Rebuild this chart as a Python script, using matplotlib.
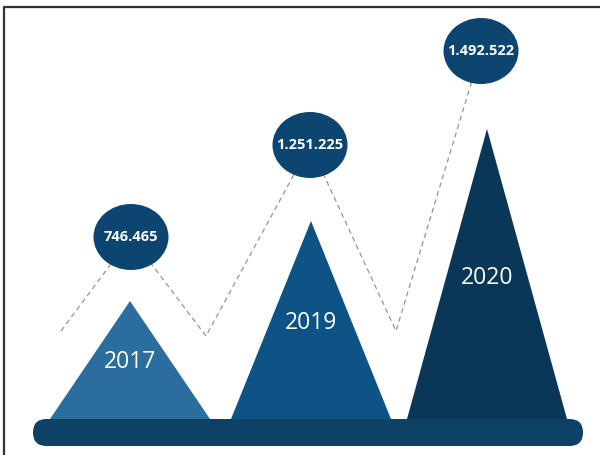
import matplotlib
matplotlib.use('Agg')
import matplotlib.pyplot as plt
from matplotlib.patches import Polygon, Ellipse, FancyBboxPatch

# data
years = ['2017', '2019', '2020']
visitors = [746465, 1251225, 1492522]
labels = ['746.465', '1.251.225', '1.492.522']
# picture is not to scale, so peak heights are read off the image (px above the base)
peak = [118, 198, 290]
bubble_x = [131, 310, 481]
bubble_y = [218, 310, 404]
valley_x = [61, 206, 396]
valley_y = [124, 119, 124]
centers = [130, 311, 487]
colors = ['#2b6d9d', '#0d5385', '#0a3757']

fig = plt.figure(figsize=(6.0, 4.56), dpi=100)
ax = fig.add_axes([0, 0, 1, 1])
ax.set_xlim(0, 600)
ax.set_ylim(0, 456)
ax.axis('off')

base = 36
half = 80

# frame (top and left edges only visible)
ax.plot([4, 4, 600], [0, 448, 448], color='#333333', lw=1.6, solid_capstyle='butt')

# dashed zigzag, passes behind the bubbles
zx, zy = [], []
for i in range(3):
    zx += [valley_x[i], bubble_x[i]]
    zy += [valley_y[i], bubble_y[i]]
ax.plot(zx, zy, color='#949494', lw=0.9, ls=(0, (4, 3)), zorder=1)

for i in range(3):
    c = centers[i]
    tri = Polygon([(c - half, base), (c, base + peak[i]), (c + half, base)],
                  closed=True, facecolor=colors[i], edgecolor='none', zorder=2)
    ax.add_patch(tri)
    ax.text(c, base + peak[i] * 0.49, years[i], color='white', fontsize=16.5,
            family='Open Sans', ha='center', va='center', zorder=4)

# bubbles
for i in range(3):
    ax.add_patch(Ellipse((bubble_x[i], bubble_y[i]), 75, 66, facecolor='#0c4570',
                         edgecolor='none', zorder=3))
    ax.text(bubble_x[i], bubble_y[i] + 1, labels[i], color='white', fontsize=10.5,
            fontweight='bold', family='Open Sans', ha='center', va='center', zorder=4)

# base bar
bar = FancyBboxPatch((33, 9), 550, 27, boxstyle='round,pad=0,rounding_size=13.5',
                     facecolor='#0d4165', edgecolor='none', zorder=5)
ax.add_patch(bar)

fig.savefig('out.png', dpi=100)
